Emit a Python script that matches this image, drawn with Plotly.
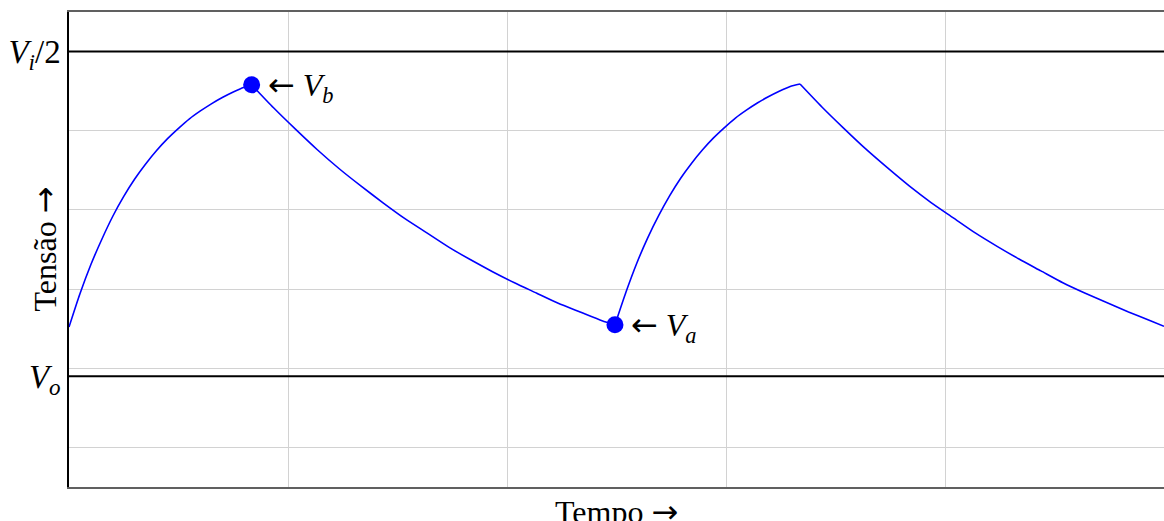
import plotly.graph_objects as go

# Curve (time units, voltage units), one list per segment
seg_t = [
    [0.0, 0.05, 0.10, 0.15, 0.20, 0.25, 0.30, 0.35, 0.40, 0.45, 0.50,
     0.55, 0.60, 0.65, 0.70, 0.75, 0.80, 0.834],
    [0.834, 0.934, 1.034, 1.134, 1.234, 1.334, 1.434, 1.534, 1.634, 1.734,
     1.834, 1.934, 2.034, 2.134, 2.234, 2.334, 2.434, 2.493],
    [2.493, 2.543, 2.593, 2.643, 2.693, 2.743, 2.793, 2.843, 2.893, 2.943,
     2.993, 3.043, 3.093, 3.143, 3.193, 3.243, 3.293, 3.338],
    [3.338, 3.438, 3.538, 3.638, 3.738, 3.838, 3.938, 4.038, 4.138, 4.238,
     4.338, 4.438, 4.538, 4.638, 4.738, 4.838, 4.938, 5.000],
]
seg_v = [
    [1.52, 1.94, 2.31, 2.63, 2.92, 3.17, 3.39, 3.58, 3.75, 3.90, 4.03,
     4.15, 4.25, 4.34, 4.42, 4.49, 4.55, 4.58],
    [4.58, 4.29, 4.02, 3.76, 3.52, 3.30, 3.09, 2.89, 2.71, 2.53,
     2.37, 2.22, 2.08, 1.95, 1.82, 1.71, 1.60, 1.55],
    [1.55, 1.96, 2.33, 2.65, 2.93, 3.18, 3.40, 3.59, 3.76, 3.91,
     4.04, 4.16, 4.26, 4.35, 4.43, 4.50, 4.56, 4.59],
    [4.59, 4.30, 4.03, 3.77, 3.53, 3.30, 3.09, 2.90, 2.71, 2.54,
     2.38, 2.23, 2.08, 1.95, 1.83, 1.71, 1.60, 1.53],
]

# Marked points
pt_t = [0.834, 2.493]
pt_v = [4.58, 1.55]
ARROW = '<span style="font-family:DejaVu Sans">←</span>'
pt_labels = [ARROW + " <i>V</i><sub><i>b</i></sub>", ARROW + " <i>V</i><sub><i>a</i></sub>"]

# Reference levels
level_vals = [5.0, 0.9]
level_labels = ["<i>V</i><sub><i>i</i></sub>/2", "<i>V</i><sub><i>o</i></sub>"]

x_range = [0, 5]
y_range = [-0.5, 5.5]

FONT = "Liberation Serif"
RARROW = '<span style="font-family:DejaVu Sans">→</span>'

fig = go.Figure()

for lv in level_vals:
    fig.add_trace(go.Scatter(x=x_range, y=[lv, lv], mode="lines",
                             line=dict(color="black", width=2),
                             hoverinfo="skip", showlegend=False))

for ts, vs in zip(seg_t, seg_v):
    fig.add_trace(go.Scatter(x=ts, y=vs, mode="lines",
                             line=dict(color="#0000ff", width=1.6, shape="spline", smoothing=0.6),
                             showlegend=False))

fig.add_trace(go.Scatter(x=pt_t, y=pt_v, mode="markers",
                         marker=dict(color="#0000ff", size=17, line=dict(width=0)),
                         showlegend=False, cliponaxis=False))

for tx, vy, lab in zip(pt_t, pt_v, pt_labels):
    fig.add_annotation(x=tx, y=vy, text=lab, showarrow=False,
                       xanchor="left", yanchor="middle", xshift=14, yshift=-2,
                       font=dict(family=FONT, size=32, color="black"))

fig.add_annotation(x=0.5, y=0, xref="paper", yref="paper", text="Tempo " + RARROW,
                   showarrow=False, xanchor="center", yanchor="top", yshift=-4,
                   font=dict(family=FONT, size=32, color="black"))
fig.add_annotation(x=0, y=0.5, xref="paper", yref="paper", text="Tensão " + RARROW,
                   showarrow=False, xanchor="right", yanchor="middle", xshift=-4,
                   textangle=-90,
                   font=dict(family=FONT, size=32, color="black"))

fig.update_layout(
    width=1164, height=521,
    margin=dict(l=69, r=0, t=12, b=34),
    paper_bgcolor="white", plot_bgcolor="white",
    xaxis=dict(range=x_range, dtick=1, tick0=0, showgrid=True,
               gridcolor="#d2d2d2", gridwidth=1.2, showticklabels=False,
               ticks="", zeroline=False, showline=True, linecolor="#606060",
               linewidth=1.5, mirror=True),
    yaxis=dict(range=y_range, tickvals=level_vals, ticktext=level_labels,
               showgrid=False, ticks="", zeroline=False, showline=True,
               linecolor="black", linewidth=1.5,
               tickfont=dict(family=FONT, size=33, color="black"),
               minor=dict(tick0=0, dtick=1, showgrid=True,
                          gridcolor="#d2d2d2", gridwidth=1.2)),
)

fig.write_html("out.html")
